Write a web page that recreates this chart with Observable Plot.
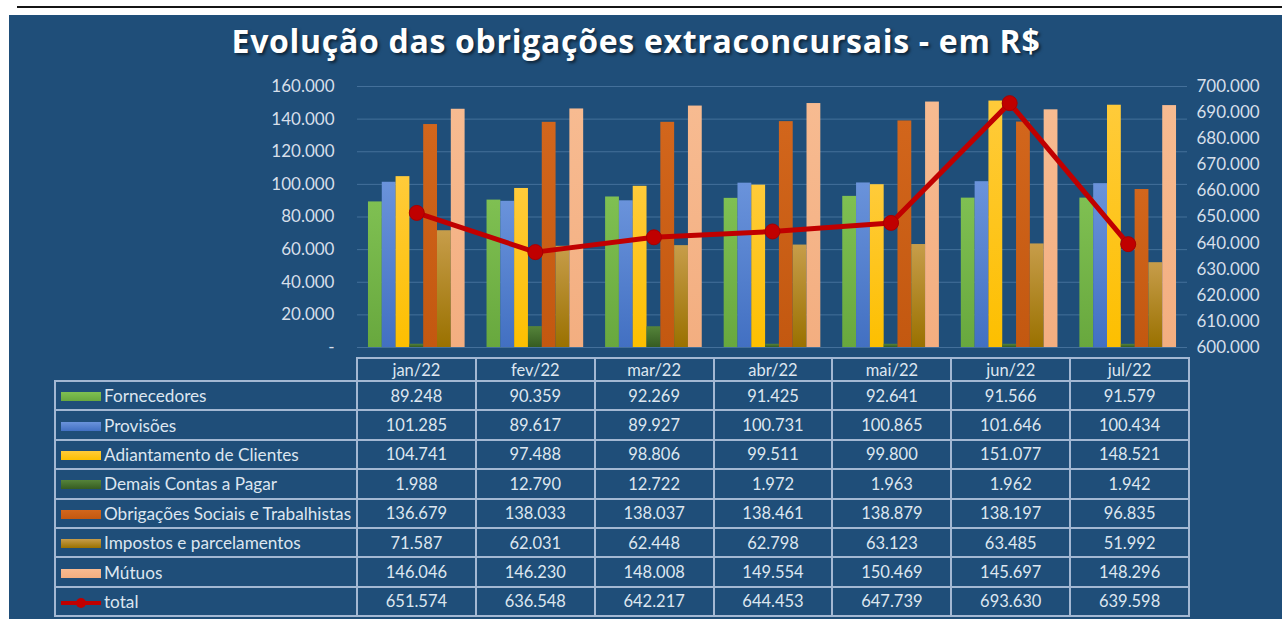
<!DOCTYPE html>
<html><head><meta charset="utf-8">
<script src="https://cdn.jsdelivr.net/npm/d3@7"></script>
<script src="https://cdn.jsdelivr.net/npm/@observablehq/plot@0.6"></script>
<style>
body{margin:0;background:#fff;width:1282px;height:619px;overflow:hidden;position:relative;font-family:Lato,sans-serif;}
#topline{position:absolute;left:17px;top:6px;width:1265px;height:2px;background:#151515;}
#panel{position:absolute;left:9px;top:15px;width:1273px;height:604px;background:#1F4E79;}
#title{position:absolute;left:-5px;width:1282px;top:19px;text-align:center;color:#fff;font:bold 32px "Open Sans",sans-serif;letter-spacing:0.7px;text-shadow:2px 2px 3px rgba(0,0,0,.55);white-space:nowrap;}
.layer{position:absolute;left:0;top:0;}
#tbl{position:absolute;left:54px;top:357px;border-collapse:collapse;table-layout:fixed;color:#DDE6F0;font:16.5px Lato,sans-serif;}
#tbl td{border:2px solid #A3B8D3;padding:0;text-align:center;white-space:nowrap;overflow:hidden;}
#tbl td.lab{text-align:left;padding-left:5px;font-size:17.2px;}
#tbl td.blank{border:none;}
#tbl tr.head{height:23px;}
#tbl tr.row{height:29.4px;}
.sw{display:inline-block;width:40px;height:9px;margin-right:3px;vertical-align:1px;}
</style>
</head><body>
<div id="topline"></div>
<div id="panel"></div>
<div id="title"></div>
<div id="chart"></div>
<table id="tbl"></table>
<script>
// ---- data ----
const titleText = "Evolução das obrigações extraconcursais - em R$";
const months = ["jan/22","fev/22","mar/22","abr/22","mai/22","jun/22","jul/22"];
const seriesNames = ["Fornecedores","Provisões","Adiantamento de Clientes","Demais Contas a Pagar","Obrigações Sociais e Trabalhistas","Impostos e parcelamentos","Mútuos"];
const fornecedores = [89248, 90359, 92269, 91425, 92641, 91566, 91579];
const provisoes = [101285, 89617, 89927, 100731, 100865, 101646, 100434];
const adiantamento = [104741, 97488, 98806, 99511, 99800, 151077, 148521];
const demaisContas = [1988, 12790, 12722, 1972, 1963, 1962, 1942];
const obrigacoesSociais = [136679, 138033, 138037, 138461, 138879, 138197, 96835];
const impostos = [71587, 62031, 62448, 62798, 63123, 63485, 51992];
const mutuos = [146046, 146230, 148008, 149554, 150469, 145697, 148296];
const total = [651574, 636548, 642217, 644453, 647739, 693630, 639598];
const totalLabel = "total";
const leftDomain = [0, 160000];
const rightDomain = [600000, 700000];

// ---- styles ----
const gradTop = ["#7fc052","#6a93db","#ffcb3a","#55843a","#d2661c","#c79d4a","#f7bb91"];
const gradBot = ["#68a83e","#4270c2","#fdbf00","#365c22","#c35810","#9a7100","#f3ae80"];
const lineColor = "#C00000";

const seriesValues = [fornecedores, provisoes, adiantamento, demaisContas, obrigacoesSociais, impostos, mutuos];
const rows = [];
seriesNames.forEach((s, si) => months.forEach((m, mi) => rows.push({month: m, series: s, value: seriesValues[si][mi]})));
const totals = months.map((m, i) => ({month: m, value: total[i]}));

const loc = d3.formatLocale({decimal: ",", thousands: ".", grouping: [3], currency: ["R$", ""]});
const f0 = loc.format(",.0f");
const fmt = v => v === 0 ? "-" : f0(v);

document.getElementById("title").textContent = titleText;

const W = 1282, H = 357;
const common = {width: W, height: H, marginLeft: 357, marginRight: 95, marginTop: 86, marginBottom: 10,
  style: {background: "transparent", color: "#D6DFEA", fontSize: "17px", fontFamily: "Lato, sans-serif"}};

// layer 1: grid + left axis
const p1 = Plot.plot({...common,
  y: {domain: leftDomain, ticks: 8, tickFormat: fmt, tickSize: 0, tickPadding: 23, label: null},
  marks: [Plot.ruleY(d3.ticks(leftDomain[0], leftDomain[1], 8), {stroke: "#44709A", strokeWidth: 1})]
});
// layer 2: bars
const p2 = Plot.plot({...common,
  fx: {domain: months, paddingInner: 0.185, paddingOuter: 0.0925, round: false, axis: null, label: null},
  x: {domain: seriesNames, padding: 0, round: false, axis: null},
  y: {domain: leftDomain, axis: null},
  color: {domain: seriesNames, range: seriesNames.map((s, i) => `url(#bg${i})`)},
  marks: [Plot.barY(rows, {fx: "month", x: "series", y: "value", fill: "series"})]
});
const defs = document.createElementNS("http://www.w3.org/2000/svg", "defs");
defs.innerHTML = gradTop.map((c, i) => `<linearGradient id="bg${i}" x1="0" y1="0" x2="0" y2="1"><stop offset="0" stop-color="${c}"/><stop offset="1" stop-color="${gradBot[i]}"/></linearGradient>`).join("");
p2.insertBefore(defs, p2.firstChild);
// layer 3: total line + right axis
const p3 = Plot.plot({...common,
  x: {type: "point", domain: months, padding: 0.5, round: false, axis: null},
  y: {domain: rightDomain, ticks: 10, tickFormat: fmt, tickSize: 0, tickPadding: 9, axis: "right", label: null},
  marks: [
    Plot.line(totals, {x: "month", y: "value", stroke: lineColor, strokeWidth: 5}),
    Plot.dot(totals, {x: "month", y: "value", r: 7.5, fill: lineColor, stroke: "#A80000", strokeWidth: 1})
  ]
});
[p1, p2, p3].forEach(p => { p.classList.add("layer"); document.getElementById("chart").appendChild(p); });

// table
const tbl = document.getElementById("tbl");
const cg = document.createElement("colgroup");
cg.innerHTML = `<col style="width:302px">` + months.map(() => `<col style="width:118.86px">`).join("");
tbl.appendChild(cg);
const head = document.createElement("tr"); head.className = "head";
head.innerHTML = `<td class="blank"></td>` + months.map(m => `<td>${m}</td>`).join("");
tbl.appendChild(head);
seriesNames.forEach((s, si) => {
  const tr = document.createElement("tr"); tr.className = "row";
  tr.innerHTML = `<td class="lab"><span class="sw" style="background:linear-gradient(${gradTop[si]},${gradBot[si]})"></span>${s}</td>` +
    seriesValues[si].map(v => `<td>${fmt(v)}</td>`).join("");
  tbl.appendChild(tr);
});
const tr = document.createElement("tr"); tr.className = "row";
tr.innerHTML = `<td class="lab"><svg width="40" height="12" style="margin-right:3px;vertical-align:-1px"><line x1="0" x2="40" y1="6" y2="6" stroke="${lineColor}" stroke-width="4"/><circle cx="20" cy="6" r="5" fill="${lineColor}"/></svg>${totalLabel}</td>` +
  total.map(v => `<td>${fmt(v)}</td>`).join("");
tbl.appendChild(tr);
</script>
</body></html>
